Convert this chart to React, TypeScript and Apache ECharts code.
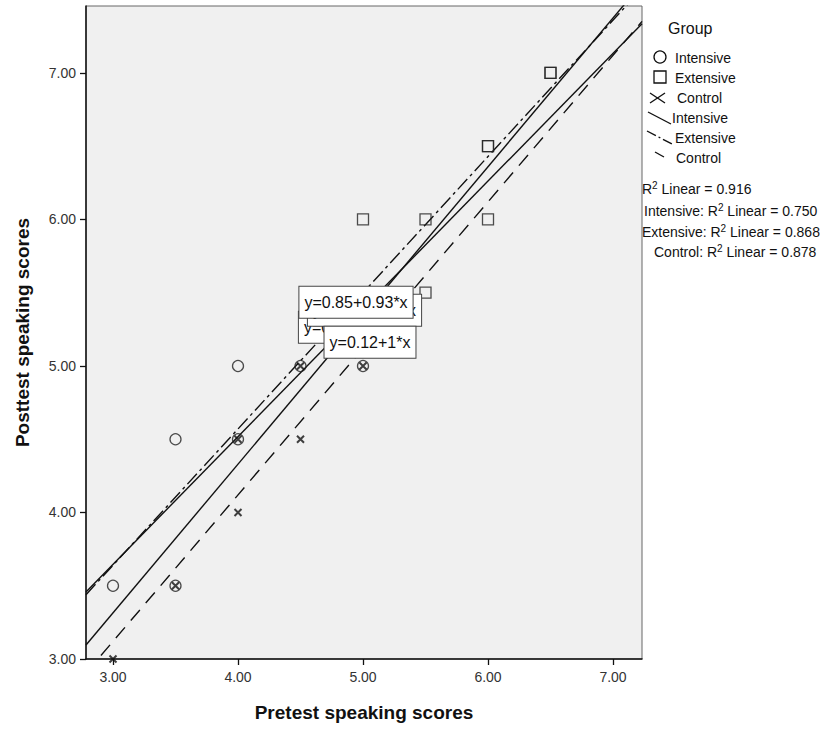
import { useEffect, useRef } from "react";
import * as echarts from "echarts";

const xTicks = [3, 4, 5, 6, 7];
const yTicks = [3, 4, 5, 6, 7];

const intensivePoints = [[3, 3.5], [3.5, 4.5], [4, 5], [3.5, 3.5], [4, 4.5], [4.5, 5], [5, 5]];
const extensivePoints = [[5, 6], [5.5, 6], [6, 6], [5.5, 5.5], [6, 6.5], [6, 6.5], [6.5, 7], [6.5, 7]];
const controlPoints = [[3, 3], [3.5, 3.5], [4, 4], [4, 4.5], [4.5, 4.5], [4.5, 5], [5, 5]];

const fitNames = ["Total", "Intensive", "Extensive", "Control"];
const fitIntercepts = [0.27, 1.03, 0.85, 0.12];
const fitSlopes = [1.015, 0.872, 0.93, 1];
const fitLabels = ["y=0.27+1.01*x", "y=1.03+0.87*x", "y=0.85+0.93*x", "y=0.12+1*x"];

const legendGroups = ["Intensive", "Extensive", "Control"];
const r2Prefixes = ["", "Intensive: ", "Extensive: ", "Control: "];
const r2Values = ["0.916", "0.750", "0.868", "0.878"];

const FONT = "'Liberation Sans', Arial, sans-serif";
const X_MIN = 2.784;
const X_MAX = 7.232;
const Y_MIN = 3;
const Y_MAX = 7.457;

export default function App() {
  const ref = useRef<HTMLDivElement>(null);
  useEffect(() => {
    if (!ref.current) return;
    const chart = echarts.init(ref.current, null, { renderer: "svg" });
    const ink = "#111";
    const lineTypes: any[] = ["solid", "solid", [14, 4, 3, 4], [14, 9]];
    const labelXs = [4.94, 5.012, 4.944, 5.056];
    const labelOffsets = [[0, 3], [0, 3], [0, 2], [0, 2]];

    const fitSeries = fitNames.map((n, i) => ({
      type: "line",
      name: n + " fit",
      data: [
        [X_MIN, fitIntercepts[i] + fitSlopes[i] * X_MIN],
        [X_MAX, fitIntercepts[i] + fitSlopes[i] * X_MAX],
      ],
      symbol: "none",
      clip: true,
      z: 3,
      lineStyle: { color: ink, width: 1.4, type: lineTypes[i] },
      silent: true,
    }));

    const pointStyle = { color: "transparent", borderColor: "#222", borderWidth: 1.3 };

    const r2Graphics = r2Prefixes.map((p, i) => ({
      type: "text",
      x: [642, 644, 642, 654][i],
      y: [189, 211, 232, 252][i],
      style: {
        text: `${p}R{sup|2} Linear = ${r2Values[i]}`,
        font: `14px ${FONT}`,
        fill: ink,
        verticalAlign: "middle",
        rich: {
          sup: { fontSize: 10, fontFamily: FONT, fill: ink, verticalAlign: "top", lineHeight: 18 },
        },
      },
    }));

    const legendGraphics = [
      { type: "text", x: 668, y: 28, style: { text: "Group", font: `16px ${FONT}`, fill: ink, verticalAlign: "middle" } },
      { type: "circle", shape: { cx: 660, cy: 57, r: 6 }, style: { fill: "none", stroke: ink, lineWidth: 1.3 } },
      { type: "text", x: 675, y: 58, style: { text: legendGroups[0], font: `14px ${FONT}`, fill: ink, verticalAlign: "middle" } },
      { type: "rect", shape: { x: 654, y: 71, width: 12, height: 12 }, style: { fill: "none", stroke: ink, lineWidth: 1.3 } },
      { type: "text", x: 675, y: 78, style: { text: legendGroups[1], font: `14px ${FONT}`, fill: ink, verticalAlign: "middle" } },
      { type: "line", shape: { x1: 650, y1: 93, x2: 665, y2: 103 }, style: { stroke: ink, lineWidth: 1.3 } },
      { type: "line", shape: { x1: 650, y1: 103, x2: 665, y2: 93 }, style: { stroke: ink, lineWidth: 1.3 } },
      { type: "text", x: 677, y: 98, style: { text: legendGroups[2], font: `14px ${FONT}`, fill: ink, verticalAlign: "middle" } },
      { type: "line", shape: { x1: 648, y1: 112, x2: 671, y2: 124 }, style: { stroke: ink, lineWidth: 1.4 } },
      { type: "text", x: 672, y: 118, style: { text: legendGroups[0], font: `14px ${FONT}`, fill: ink, verticalAlign: "middle" } },
      { type: "line", shape: { x1: 647, y1: 131, x2: 672, y2: 144 }, style: { stroke: ink, lineWidth: 1.4, lineDash: [10, 3, 2, 3] } },
      { type: "text", x: 675, y: 138, style: { text: legendGroups[1], font: `14px ${FONT}`, fill: ink, verticalAlign: "middle" } },
      { type: "line", shape: { x1: 655, y1: 152, x2: 664, y2: 157 }, style: { stroke: ink, lineWidth: 1.4 } },
      { type: "text", x: 676, y: 158, style: { text: legendGroups[2], font: `14px ${FONT}`, fill: ink, verticalAlign: "middle" } },
      ...r2Graphics,
    ];

    chart.setOption({
      animation: false,
      grid: {
        left: 86,
        top: 6,
        right: 193,
        bottom: 72,
        show: true,
        backgroundColor: "#f0f0f0",
        borderColor: "#666",
        borderWidth: 1,
      },
      xAxis: {
        type: "value",
        min: X_MIN,
        max: X_MAX,
        name: "Pretest speaking scores",
        nameLocation: "middle",
        nameGap: 44,
        nameTextStyle: { fontFamily: FONT, fontSize: 19, fontWeight: "bold", color: "#111" },
        axisLine: { show: true, lineStyle: { color: "#111", width: 1.5 } },
        axisTick: { show: true, length: 6, customValues: xTicks, lineStyle: { color: "#111", width: 1.3 } },
        axisLabel: {
          customValues: xTicks,
          margin: 11,
          fontFamily: FONT,
          fontSize: 14,
          color: "#333",
          formatter: (v: number) => v.toFixed(2),
        },
        splitLine: { show: false },
      },
      yAxis: {
        type: "value",
        min: Y_MIN,
        max: Y_MAX,
        name: "Posttest speaking scores",
        nameLocation: "middle",
        nameGap: 54,
        nameTextStyle: { fontFamily: FONT, fontSize: 19, fontWeight: "bold", color: "#111" },
        axisLine: { show: true, lineStyle: { color: "#111", width: 1.5 } },
        axisTick: { show: true, length: 6, customValues: yTicks, lineStyle: { color: "#111", width: 1.3 } },
        axisLabel: {
          customValues: yTicks,
          margin: 10,
          fontFamily: FONT,
          fontSize: 14,
          color: "#333",
          formatter: (v: number) => v.toFixed(2),
        },
        splitLine: { show: false },
      },
      series: [
        ...fitSeries,
        {
          type: "scatter",
          name: legendGroups[0],
          data: intensivePoints,
          symbol: "circle",
          symbolSize: 11,
          z: 5,
          itemStyle: pointStyle,
        },
        {
          type: "scatter",
          name: legendGroups[1],
          data: extensivePoints,
          symbol: "rect",
          symbolSize: 11,
          z: 5,
          itemStyle: pointStyle,
        },
        {
          type: "scatter",
          name: legendGroups[2],
          data: controlPoints,
          symbol: "path://M0,0L10,10M10,0L0,10",
          symbolSize: 7,
          z: 5,
          itemStyle: { color: "transparent", borderColor: "#111", borderWidth: 2 },
        },
      ],
      graphic: legendGraphics,
    });

    // Equation boxes anchored on each fit line through the axes' scales
    const eqGraphics = fitNames.map((n, i) => {
      const xv = labelXs[i];
      const p = chart.convertToPixel({ gridIndex: 0 }, [xv, fitIntercepts[i] + fitSlopes[i] * xv]) as number[];
      return {
        type: "text",
        id: "eq-" + n,
        z: 100 + i,
        x: p[0] + labelOffsets[i][0],
        y: p[1] + labelOffsets[i][1],
        style: {
          text: fitLabels[i],
          font: `16px ${FONT}`,
          fill: "#111",
          align: "center",
          verticalAlign: "middle",
          backgroundColor: "#fff",
          borderColor: "#444",
          borderWidth: 1,
          padding: [8, 5, 7, 5],
        },
      };
    });
    chart.setOption({ graphic: [...legendGraphics, ...eqGraphics] });

    return () => chart.dispose();
  }, []);
  return (
    <div
      ref={ref}
      style={{ position: "fixed", left: 0, top: 0, width: 835, height: 731, background: "#fff" }}
    />
  );
}
